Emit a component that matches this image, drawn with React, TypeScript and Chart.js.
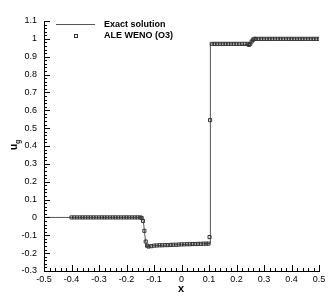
import { useEffect, useRef } from 'react';
import { Chart, registerables } from 'chart.js';
Chart.register(...registerables);

const exactX = [-0.5, -0.142, -0.138, -0.134, -0.13, -0.127, -0.12, -0.1, -0.05, 0, 0.05, 0.105, 0.105, 0.2, 0.245, 0.25, 0.26, 0.265, 0.5];
const exactU = [0, 0, -0.03, -0.09, -0.14, -0.163, -0.162, -0.158, -0.155, -0.152, -0.149, -0.146, 0.972, 0.972, 0.969, 0.978, 0.993, 1.0, 1.0];

const markerX = [
  -0.40, -0.39, -0.38, -0.37, -0.36, -0.35, -0.34, -0.33, -0.32, -0.31,
  -0.30, -0.29, -0.28, -0.27, -0.26, -0.25, -0.24, -0.23, -0.22, -0.21,
  -0.20, -0.19, -0.18, -0.17, -0.16, -0.15, -0.145, -0.14, -0.135, -0.13,
  -0.125, -0.12, -0.11, -0.10, -0.09, -0.08, -0.07, -0.06, -0.05, -0.04,
  -0.03, -0.02, -0.01, 0.0, 0.01, 0.02, 0.03, 0.04, 0.05, 0.06,
  0.07, 0.08, 0.09, 0.098, 0.102, 0.104, 0.11, 0.12, 0.13, 0.14,
  0.15, 0.16, 0.17, 0.18, 0.19, 0.20, 0.21, 0.22, 0.23, 0.24,
  0.245, 0.25, 0.255, 0.26, 0.265, 0.27, 0.28, 0.29, 0.30, 0.31,
  0.32, 0.33, 0.34, 0.35, 0.36, 0.37, 0.38, 0.39, 0.40, 0.41,
  0.42, 0.43, 0.44, 0.45, 0.46, 0.47, 0.48, 0.49, 0.50,
];
const markerU = [
  0, 0, 0, 0, 0, 0, 0, 0, 0, 0,
  0, 0, 0, 0, 0, 0, 0, 0, 0, 0,
  0, 0, 0, 0, 0, 0, -0.003, -0.02, -0.075, -0.135,
  -0.158, -0.163, -0.161, -0.158, -0.157, -0.156, -0.156, -0.155, -0.155, -0.154,
  -0.153, -0.153, -0.152, -0.151, -0.151, -0.15, -0.15, -0.149, -0.149, -0.148,
  -0.148, -0.147, -0.147, -0.147, -0.11, 0.545, 0.972, 0.972, 0.972, 0.972,
  0.972, 0.972, 0.972, 0.972, 0.972, 0.972, 0.972, 0.972, 0.972, 0.972,
  0.966, 0.972, 0.985, 0.995, 1.0, 1.0, 1.0, 1.0, 1.0, 1.0,
  1.0, 1.0, 1.0, 1.0, 1.0, 1.0, 1.0, 1.0, 1.0, 1.0,
  1.0, 1.0, 1.0, 1.0, 1.0, 1.0, 1.0, 1.0, 1.0,
];

const xTicks = [-0.5, -0.4, -0.3, -0.2, -0.1, 0, 0.1, 0.2, 0.3, 0.4, 0.5];
const yTicks = [-0.3, -0.2, -0.1, 0, 0.1, 0.2, 0.3, 0.4, 0.5, 0.6, 0.7, 0.8, 0.9, 1.0, 1.1];
const seriesNames = ['Exact solution', 'ALE WENO (O3)'];
const FONT = '"Liberation Sans", Arial, Helvetica, sans-serif';

const decorPlugin = {
  id: 'decor',
  afterDraw(chart: any) {
    const ctx = chart.ctx as CanvasRenderingContext2D;
    const xs = chart.scales.x;
    const ys = chart.scales.y;
    const a = chart.chartArea;
    ctx.save();
    ctx.strokeStyle = '#000';
    ctx.lineWidth = 1;
    ctx.beginPath();
    // x major/minor ticks (inward)
    for (let i = 0; i < xTicks.length; i++) {
      const px = Math.round(xs.getPixelForValue(xTicks[i])) + 0.5;
      ctx.moveTo(px, a.bottom);
      ctx.lineTo(px, a.bottom - 6);
      if (i < xTicks.length - 1) {
        for (let k = 1; k < 5; k++) {
          const v = xTicks[i] + (xTicks[i + 1] - xTicks[i]) * k / 5;
          const pm = Math.round(xs.getPixelForValue(v)) + 0.5;
          ctx.moveTo(pm, a.bottom);
          ctx.lineTo(pm, a.bottom - 3);
        }
      }
    }
    for (let i = 0; i < yTicks.length; i++) {
      const py = Math.round(ys.getPixelForValue(yTicks[i])) + 0.5;
      ctx.moveTo(a.left, py);
      ctx.lineTo(a.left + 6, py);
      if (i < yTicks.length - 1) {
        for (let k = 1; k < 5; k++) {
          const v = yTicks[i] + (yTicks[i + 1] - yTicks[i]) * k / 5;
          const pm = Math.round(ys.getPixelForValue(v)) + 0.5;
          ctx.moveTo(a.left, pm);
          ctx.lineTo(a.left + 3, pm);
        }
      }
    }
    ctx.stroke();

    // legend
    ctx.strokeStyle = '#555';
    ctx.beginPath();
    ctx.moveTo(56, 24.5);
    ctx.lineTo(95, 24.5);
    ctx.stroke();
    ctx.strokeStyle = '#333';
    ctx.strokeRect(74.5, 34.5, 3, 3);
    ctx.fillStyle = '#000';
    ctx.font = `bold 9px ${FONT}`;
    ctx.textBaseline = 'middle';
    ctx.textAlign = 'left';
    ctx.fillText(seriesNames[0], 104, 25);
    ctx.fillText(seriesNames[1], 104, 36);

    // axis titles
    ctx.font = `bold 11px ${FONT}`;
    ctx.textAlign = 'center';
    ctx.textBaseline = 'alphabetic';
    ctx.fillText('x', 181, 292);
    ctx.translate(17, 150);
    ctx.rotate(-Math.PI / 2);
    ctx.textAlign = 'left';
    ctx.font = `bold 10px ${FONT}`;
    ctx.fillText('u', 0, 0);
    const w = ctx.measureText('u').width;
    ctx.font = `bold 7px ${FONT}`;
    ctx.fillText('g', w, 3);
    ctx.restore();
  },
};

export default function App() {
  const ref = useRef<HTMLCanvasElement>(null);
  useEffect(() => {
    const fmt = (v: any) => {
      const n = Math.round(Number(v) * 10) / 10;
      return Object.is(n, -0) ? '0' : String(n);
    };
    const chart = new Chart(ref.current!, {
      type: 'scatter',
      data: {
        datasets: [
          {
            label: seriesNames[0],
            data: exactX.map((x, i) => ({ x, y: exactU[i] })),
            showLine: true,
            borderColor: '#555',
            borderWidth: 1,
            pointRadius: 0,
            order: 2,
          },
          {
            label: seriesNames[1],
            data: markerX.map((x, i) => ({ x, y: markerU[i] })),
            showLine: false,
            pointStyle: 'rect',
            pointRadius: 2.2,
            borderColor: '#333',
            borderWidth: 1,
            backgroundColor: 'rgba(0,0,0,0)',
            order: 1,
          },
        ],
      },
      options: {
        animation: false,
        responsive: false,
        layout: { padding: { top: 21, right: 13, left: 0, bottom: 0 } },
        plugins: { legend: { display: false }, tooltip: { enabled: false } },
        scales: {
          x: {
            type: 'linear',
            min: -0.5,
            max: 0.5,
            afterFit: (s: any) => { s.height = 25; },
            afterBuildTicks: (s: any) => { s.ticks = xTicks.map((v) => ({ value: v })); },
            ticks: { stepSize: 0.1, autoSkip: false, maxRotation: 0, padding: 3, color: '#000', font: { family: FONT, size: 9 }, callback: fmt },
            grid: { display: false, drawTicks: false },
            border: { display: true, color: '#000', width: 1 },
          },
          y: {
            type: 'linear',
            min: -0.3,
            max: 1.1,
            afterFit: (s: any) => { s.width = 44; },
            afterBuildTicks: (s: any) => { s.ticks = yTicks.map((v) => ({ value: v })); },
            ticks: { stepSize: 0.1, autoSkip: false, padding: 7, color: '#000', font: { family: FONT, size: 9 }, callback: fmt },
            grid: { display: false, drawTicks: false },
            border: { display: true, color: '#000', width: 1 },
          },
        },
      },
      plugins: [decorPlugin],
    });
    return () => chart.destroy();
  }, []);
  return (
    <div style={{ position: 'fixed', left: 0, top: 0, width: 332, height: 296, background: '#fff' }}>
      <canvas ref={ref} width={332} height={296} style={{ display: 'block', width: 332, height: 296 }} />
    </div>
  );
}
